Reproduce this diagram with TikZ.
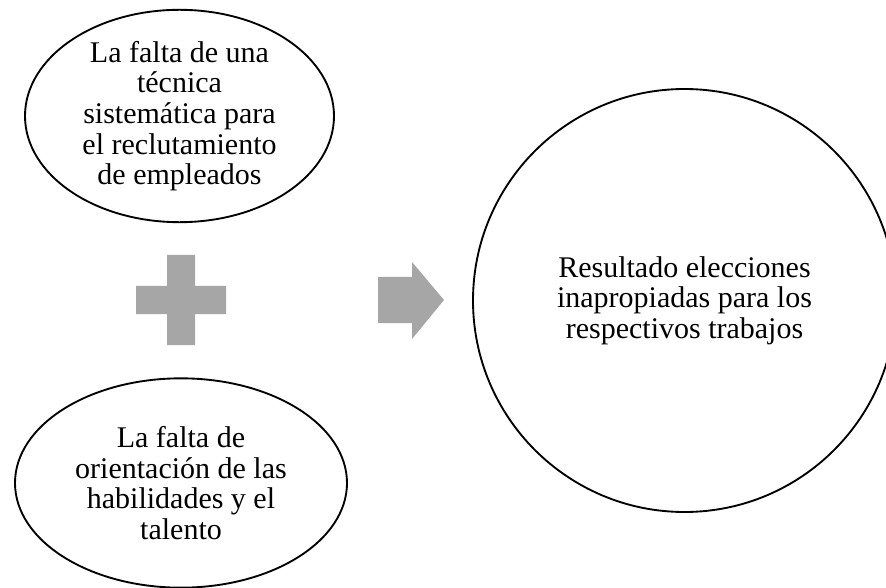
\documentclass[tikz,border=0pt]{standalone}
\usepackage{fontspec}
\setmainfont{Liberation Serif}
\definecolor{signgray}{RGB}{166, 166, 166}
\usetikzlibrary{shapes.geometric, positioning}

\tikzset{
  causebox/.style={draw=black, line width=1.4pt, ellipse, align=center, inner sep=0pt, font=\fontsize{22.5}{23}\selectfont},
  resultbox/.style={draw=black, line width=1.4pt, circle, align=center, inner sep=0pt, font=\fontsize{22.5}{23}\selectfont},
}

\begin{document}
\begin{tikzpicture}[x=0.75pt, y=-0.75pt]
  \useasboundingbox (0,0) rectangle (886,588);

  % First cause
  \node[causebox, minimum width=231.75pt, minimum height=159pt] (cause1) at (179.5, 116) {
    La falta de una\\técnica\\sistemática para\\el reclutamiento\\de empleados
  };

  % Second cause
  \node[causebox, minimum width=249pt, minimum height=157pt] (cause2) at (181, 483) {
    La falta de\\orientación de las\\habilidades y el\\talento
  };

  % Plus sign
  \coordinate (plus) at (181, 300);
  \fill[signgray, shift={(plus)}] (-14,-45) -- (14,-45) -- (14,-14) -- (45,-14) -- (45,14) -- (14,14)
    -- (14,45) -- (-14,45) -- (-14,14) -- (-45,14) -- (-45,-14) -- (-14,-14) -- cycle;

  % Arrow
  \coordinate (arrow) at (411, 300);
  \fill[signgray, shift={(arrow)}] (-33,-23) -- (1,-23) -- (1,-38) -- (33,0) -- (1,39) -- (1,23) -- (-33,23) -- cycle;

  % Result
  \node[resultbox, minimum size=317.25pt] (result) at (684.5, 300.5) {
    Resultado elecciones\\inapropiadas para los\\respectivos trabajos
  };
\end{tikzpicture}
\end{document}
